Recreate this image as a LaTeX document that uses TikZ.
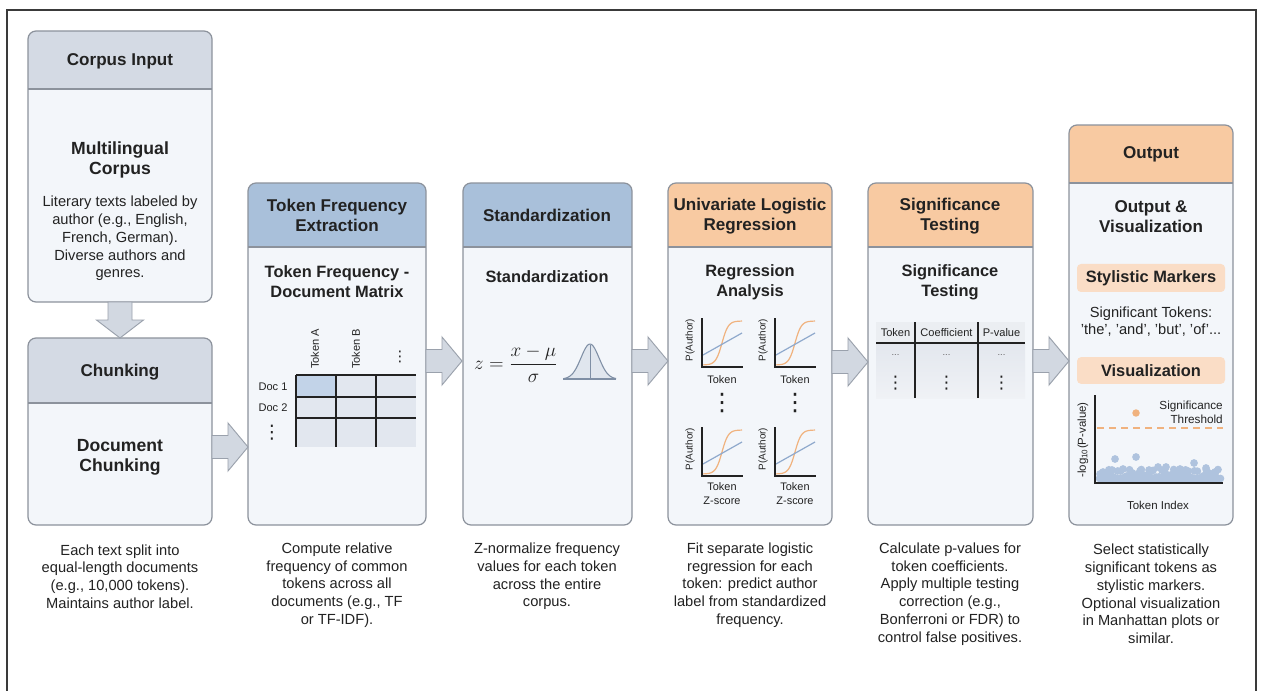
\documentclass[tikz,border=0pt]{standalone}
\usepackage{fontspec}
\setmainfont{Liberation Sans}
\newfontfamily\dejavu{DejaVu Sans}
\usetikzlibrary{calc,fit}
\definecolor{txt}{HTML}{222222}
\definecolor{hgray}{HTML}{D4DAE4}
\definecolor{hblue}{HTML}{A9C0DA}
\definecolor{horange}{HTML}{F8CAA2}
\definecolor{bodyc}{HTML}{F3F6FA}
\definecolor{bord}{HTML}{8C929C}
\definecolor{arrf}{HTML}{D2D8E1}
\definecolor{arrd}{HTML}{9AA1AC}
\definecolor{pillc}{HTML}{FADDC6}
\definecolor{plotor}{HTML}{F0B27E}
\definecolor{plotbl}{HTML}{8FA9CC}
\definecolor{dotbl}{HTML}{AFC3DE}
\definecolor{cellc}{HTML}{E2E7EF}
\definecolor{cellh}{HTML}{C2D3E8}
\definecolor{tabc}{HTML}{E3E7EE}
\definecolor{tabh}{HTML}{EBEEF2}
\definecolor{bellc}{HTML}{7F8FA5}
\definecolor{bellf}{HTML}{E0E6EE}
\definecolor{framec}{HTML}{3A3A3A}

\tikzset{
  stagebox/.style={fill=bodyc, draw=none, inner sep=0pt, outer sep=0pt, rounded corners=6pt},
  hd/.style={font=\fontsize{12.8}{15}\selectfont\bfseries, text=txt, align=center, inner sep=0pt},
  sub/.style={font=\fontsize{13.2}{15}\selectfont\bfseries, text=txt, align=center, inner sep=0pt},
  subs/.style={font=\fontsize{12.3}{15}\selectfont\bfseries, text=txt, align=center, inner sep=0pt},
  bd/.style={font=\fontsize{11}{13.3}\selectfont, text=txt, align=center, inner sep=0pt},
  sm/.style={font=\fontsize{8.3}{10}\selectfont, text=txt, inner sep=0pt},
  plab/.style={font=\fontsize{7.4}{9}\selectfont, text=txt, inner sep=0pt},
  vd/.style={font=\dejavu\fontsize{13}{13}\selectfont, text=txt, inner sep=0pt},
  blockarr/.style={fill=arrf, draw=arrd, line width=0.7pt, line join=miter},
  pill/.style={fill=pillc, rounded corners=3pt, inner sep=0pt, font=\fontsize{12.3}{14}\selectfont\bfseries, text=txt}
}

\newcommand{\stage}[7]{%
  \node[stagebox, fit={(#2,#3) (#4,#5)}] (#1) {};
  \begin{scope}
    \clip[rounded corners=6pt] (#2,#3) rectangle (#4,#5);
    \fill[#7] (#2,#3) rectangle (#4,#6);
  \end{scope}
  \draw[bord, line width=0.8pt] (#2,#6) -- (#4,#6);
  \draw[bord, line width=0.9pt, rounded corners=6pt] (#2,#3) rectangle (#4,#5);
}

\newcommand{\harrow}[2]{%
  \coordinate (tmpy) at (0,#2);
  \draw[blockarr] (#1.east |- tmpy) ++(0,-11.5) -- ++(16,0) -- ++(0,-12.5) -- ++(20,24) -- ++(-20,24) -- ++(0,-12.5) -- ++(-16,0) -- cycle;
}

\newcommand{\regplot}[3]{%
  \begin{scope}[shift={(#2,#3)}]
    \draw[plotor, line width=0.9pt] plot[domain=1:40, samples=30, smooth] (\x, {47-44/(1+exp(-0.32*(\x-20)))});
    \draw[plotbl, line width=0.9pt] (1,37) -- (40,15);
    \draw[txt, line width=0.8pt] (0,0) -- (0,49) -- (41,49);
    \node[plab, rotate=90] (#1lab) at (-12,22) {P(Author)};
  \end{scope}
}

\begin{document}
\begin{tikzpicture}[x=0.75pt, y=-0.75pt]
\useasboundingbox (0,0) rectangle (1262,691);
\fill[white] (0,0) rectangle (1262,691);
\draw[framec, line width=1.4pt] (7,692) -- (7,10) -- (1256,10) -- (1256,692);

% stages
\stage{b1}{28}{31}{212}{302}{89}{hgray}
\stage{b2}{28}{338}{212}{525}{403}{hgray}
\stage{b3}{248}{183}{426}{525}{247}{hblue}
\stage{b4}{463}{183}{632}{525}{247}{hblue}
\stage{b5}{668}{183}{832}{525}{247}{horange}
\stage{b6}{868}{183}{1033}{525}{247}{horange}
\stage{b7}{1069}{125}{1233}{525}{183}{horange}

% arrows
\draw[blockarr] (b1.south) ++(-12,0) -- ++(0,18) -- ++(-11.5,0) -- ++(23.5,18) -- ++(23.5,-18) -- ++(-11.5,0) -- ++(0,-18) -- cycle;
\harrow{b2}{447}
\harrow{b3}{361}
\harrow{b4}{361}
\harrow{b5}{362}
\harrow{b6}{361}

% box 1
\node[hd] (t1) at (120,61) {Corpus Input};
\node[sub] (s1) at (120,160) {Multilingual\\Corpus};
\node[bd] (d1) at (120,238.5) {Literary texts labeled by\\author (e.g., English,\\French, German).\\Diverse authors and\\genres.};
% box 2
\node[hd] (t2) at (120,372) {Chunking};
\node[sub] (s2) at (120,457) {Document\\Chunking};
% box 3
\node[hd] (t3) at (337,215) {Token Frequency\\Extraction};
\node[subs] (s3) at (337,282) {Token Frequency -\\Document Matrix};
% matrix
\fill[cellc] (296,375) rectangle (416,447);
\fill[cellh] (296,375) rectangle (336,397);
\draw[txt, line width=0.8pt] (296,375) -- (416,375) (296,397) -- (416,397) (296,418) -- (416,418);
\draw[txt, line width=0.8pt] (296,375) -- (296,447) (336,375) -- (336,447) (376,375) -- (376,447);
\node[sm, rotate=90, anchor=west] (ca) at (315,369) {Token A};
\node[sm, rotate=90, anchor=west] (cb) at (356,369) {Token B};
\node[vd, font=\dejavu\fontsize{11}{11}\selectfont] (cc) at (400,357) {⋮};
\node[sm] (ra) at (273,387) {Doc 1};
\node[sm] (rb) at (273,408) {Doc 2};
\node[vd, font=\dejavu\fontsize{14}{14}\selectfont] (rc) at (272,433) {⋮};
% box 4
\node[hd] (t4) at (547,215) {Standardization};
\node[subs] (s4) at (547,277) {Standardization};
\node[inner sep=0pt, text=txt] (frm) at (516,364) {\fontsize{15}{17}\selectfont$\displaystyle z=\frac{x-\mu}{\sigma}$};
\fill[bellf] plot[domain=-2.9:2.9, samples=40, smooth] ({590+\x*9}, {379-35*exp(-0.5*(\x)*(\x))}) -- cycle;
\draw[bellc, line width=0.8pt] plot[domain=-2.9:2.9, samples=40, smooth] ({590+\x*9}, {379-35*exp(-0.5*(\x)*(\x))});
\draw[bellc, line width=0.6pt] (590,345) -- (590,379);
\draw[bellc, line width=0.9pt] (563,379) -- (616,379);
% box 5
\node[hd] (t5) at (750,216) {Univariate Logistic\\Regression};
\node[subs] (s5) at (750,282) {Regression\\Analysis};
\regplot{pa}{702}{318}
\regplot{pb}{775}{318}
\regplot{pc}{702}{427}
\regplot{pd}{775}{427}
\node[sm, font=\fontsize{8.2}{10.5}\selectfont] (xa) at (722,380) {Token};
\node[sm, font=\fontsize{8.2}{10.5}\selectfont] (xb) at (795,380) {Token};
\node[sm, align=center, font=\fontsize{8.2}{10.5}\selectfont] (xc) at (722,494) {Token\\Z-score};
\node[sm, align=center, font=\fontsize{8.2}{10.5}\selectfont] (xd) at (795,494) {Token\\Z-score};
\node[vd, font=\dejavu\fontsize{18}{18}\selectfont] (va) at (722,403) {⋮};
\node[vd, font=\dejavu\fontsize{18}{18}\selectfont] (vb) at (795,403) {⋮};
% box 6
\node[hd] (t6) at (950,216) {Significance\\Testing};
\node[subs] (s6) at (950,282) {Significance\\Testing};
\shade[top color=tabc, bottom color=tabc!55!white] (876,343) rectangle (1025,398);
\fill[tabh] (876,322) rectangle (1025,343);
\draw[txt, line width=1.1pt] (876,343) -- (1025,343);
\draw[txt, line width=0.8pt] (915,322) -- (915,398) (978,322) -- (978,398);
\node[sm] (ha) at (895.5,332.5) {Token};
\node[sm] (hb) at (946.5,332.5) {Coefficient};
\node[sm] (hc) at (1001.5,332.5) {P-value};
\node[sm, text=txt!70] (ea) at (895.5,355) {\fontsize{7}{7}\selectfont ...};
\node[sm, text=txt!70] (eb) at (946.5,355) {\fontsize{7}{7}\selectfont ...};
\node[sm, text=txt!70] (ec) at (1001.5,355) {\fontsize{7}{7}\selectfont ...};
\node[vd] (fa) at (895.5,383) {⋮};
\node[vd] (fb) at (946.5,383) {⋮};
\node[vd] (fc) at (1001.5,383) {⋮};
% box 7
\node[hd] (t7) at (1151,154) {Output};
\node[sub, font=\fontsize{12.8}{15}\selectfont\bfseries] (s7) at (1151,217) {Output \&\\Visualization};
\node[pill, minimum width=111pt, minimum height=21pt] (pm) at (1151,278) {Stylistic Markers};
\node[bd] (sg) at (1151,321.5) {Significant Tokens:\\'the', 'and', 'but', 'of'...};
\node[pill, minimum width=111pt, minimum height=20pt] (pv) at (1151,370.5) {Visualization};
% manhattan plot
\foreach \i in {0,...,40} {
  \fill[dotbl] ({1100+\i*2.95}, {474+4.5*sin(\i*97)}) circle (2.9pt);
}
\foreach \i in {0,...,41} {
  \fill[dotbl] ({1099.5+\i*2.95}, {478.5}) circle (2.9pt);
}
\foreach \p in {(1115,459),(1136,457),(1158,467),(1166,467),(1194,463),(1215,472),(1112,470),(1123,469),(1149,470),(1180,469),(1206,468),(1188,471),(1140,471),(1103,472),(1175,472)} {
  \fill[dotbl] \p circle (2.9pt);
}
\draw[txt, line width=0.9pt] (1095,395) -- (1095,483) -- (1223,483);
\draw[plotor, line width=1pt, dash pattern=on 5pt off 4pt] (1097,428) -- (1223,428);
\fill[plotor] (1136,413) circle (2.8pt);
\node[sm, rotate=90, font=\fontsize{8.6}{10}\selectfont] (yl) at (1083,440) {-log\textsubscript{10}(P-value)};
\node[sm, align=right, anchor=east, font=\fontsize{8.8}{10.5}\selectfont] (th) at (1223,412) {Significance\\Threshold};
\node[sm, font=\fontsize{8.6}{10}\selectfont] (ti) at (1158,505) {Token Index};

% descriptions
\node[bd] (n1) at (120,576.5) {Each text split into\\equal-length documents\\(e.g., 10,000 tokens).\\Maintains author label.};
\node[bd] (n2) at (337,585) {Compute relative\\frequency of common\\tokens across all\\documents (e.g., TF\\or TF-IDF).};
\node[bd] (n3) at (547,576.5) {Z-normalize frequency\\values for each token\\across the entire\\corpus.};
\node[bd] (n4) at (750,585) {Fit separate logistic\\regression for each\\token: predict author\\label from standardized\\frequency.};
\node[bd] (n5) at (950,594) {Calculate p-values for\\token coefficients.\\Apply multiple testing\\correction (e.g.,\\Bonferroni or FDR) to\\control false positives.};
\node[bd] (n6) at (1151,594) {Select statistically\\significant tokens as\\stylistic markers.\\Optional visualization\\in Manhattan plots or\\similar.};
\end{tikzpicture}
\end{document}
